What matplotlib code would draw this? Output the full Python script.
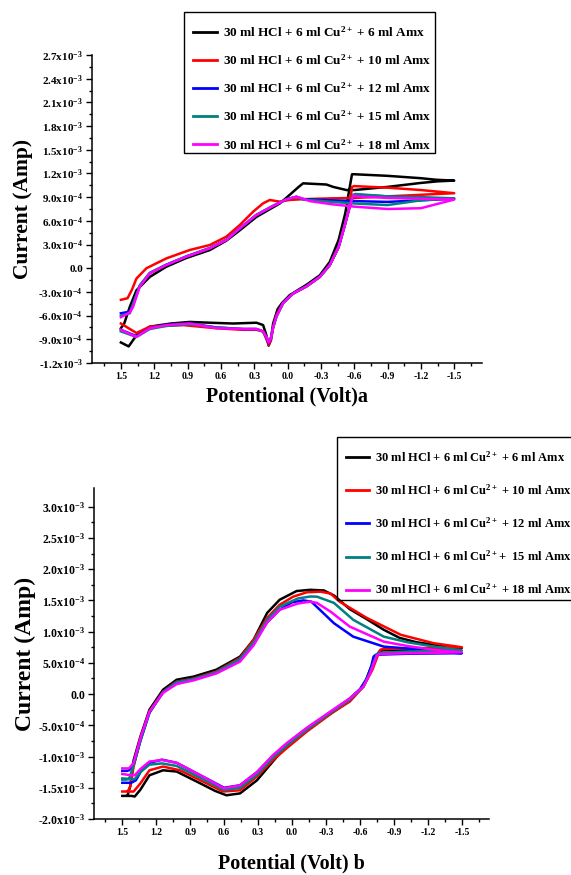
import numpy as np
import matplotlib
matplotlib.use("Agg")
import matplotlib.pyplot as plt
from matplotlib.patches import Rectangle
from matplotlib.ticker import FixedLocator, FixedFormatter

plt.rcParams['font.family'] = ['Liberation Serif', 'DejaVu Serif']
plt.rcParams['font.weight'] = 'bold'
plt.rcParams['mathtext.fontset'] = 'custom'
plt.rcParams['mathtext.rm'] = 'Liberation Serif:bold'
plt.rcParams['mathtext.it'] = 'Liberation Serif:italic:bold'
plt.rcParams['mathtext.bf'] = 'Liberation Serif:bold'

# ---------------- data (potential in V, current in mA) ----------------
colors = ['#000000', '#ff0000', '#0000ff', '#008080', '#ff00ff']
labels_a = [r"30 ml HCl + 6 ml Cu$^{2+}$ + 6 ml Amx",
            r"30 ml HCl + 6 ml Cu$^{2+}$ + 10 ml Amx",
            r"30 ml HCl + 6 ml Cu$^{2+}$ + 12 ml Amx",
            r"30 ml HCl + 6 ml Cu$^{2+}$ + 15 ml Amx",
            r"30 ml HCl + 6 ml Cu$^{2+}$ + 18 ml Amx"]
labels_b = [r"30 ml HCl + 6 ml Cu$^{2+}$ + 6 ml Amx",
            r"30 ml HCl + 6 ml Cu$^{2+}$ + 10 ml Amx",
            r"30 ml HCl + 6 ml Cu$^{2+}$ + 12 ml Amx",
            r"30 ml HCl + 6 ml Cu$^{2+}$+  15 ml Amx",
            r"30 ml HCl + 6 ml Cu$^{2+}$ + 18 ml Amx"]

# panel a
a_black_v = [1.50, 1.43, 1.36, 1.24, 1.05, 0.88, 0.70, 0.49, 0.28, 0.22, 0.19, 0.17, 0.15, 0.13, 0.09, 0.05, -0.02, -0.17, -0.29, -0.38, -0.46, -0.52, -0.55, -0.58, -0.60, -0.90, -1.20, -1.34, -1.50,
             -1.35, -1.20, -0.90, -0.60, -0.53, -0.41, -0.35, -0.14, -0.10, -0.02, 0.07, 0.28, 0.43, 0.55, 0.70, 0.91, 1.09, 1.24, 1.36, 1.42, 1.47, 1.50]
a_black_i = [-0.94, -0.99, -0.85, -0.74, -0.70, -0.68, -0.69, -0.70, -0.69, -0.72, -0.85, -0.98, -0.90, -0.70, -0.52, -0.44, -0.34, -0.21, -0.09, 0.08, 0.36, 0.70, 0.95, 1.19, 1.19, 1.17, 1.14, 1.12, 1.11,
             1.10, 1.08, 1.03, 0.99, 0.99, 1.03, 1.06, 1.075, 1.03, 0.93, 0.82, 0.65, 0.48, 0.35, 0.23, 0.13, 0.02, -0.11, -0.28, -0.49, -0.70, -0.76]
a_red_v = [1.50, 1.36, 1.24, 0.94, 0.64, 0.40, 0.28, 0.22, 0.19, 0.17, 0.15, 0.13, 0.10, 0.04, -0.05, -0.17, -0.29, -0.38, -0.46, -0.52, -0.56, -0.58, -0.60, -0.90, -1.20, -1.50,
           -1.20, -0.90, -0.60, -0.40, -0.15, -0.02, 0.07, 0.16, 0.22, 0.31, 0.43, 0.55, 0.70, 0.88, 1.09, 1.27, 1.36, 1.40, 1.44, 1.50]
a_red_i = [-0.70, -0.82, -0.74, -0.72, -0.76, -0.78, -0.78, -0.80, -0.90, -0.97, -0.92, -0.75, -0.59, -0.44, -0.32, -0.23, -0.11, 0.04, 0.27, 0.57, 0.80, 1.03, 1.04, 1.02, 0.99, 0.95,
           0.93, 0.91, 0.89, 0.885, 0.875, 0.865, 0.843, 0.864, 0.822, 0.716, 0.547, 0.40, 0.294, 0.231, 0.125, 0.0, -0.13, -0.27, -0.38, -0.40]
a_blue_v = [1.50, 1.36, 1.24, 1.09, 0.88, 0.64, 0.40, 0.28, 0.22, 0.19, 0.17, 0.15, 0.13, 0.10, 0.04, -0.05, -0.17, -0.29, -0.38, -0.46, -0.52, -0.56, -0.59, -0.61, -0.90, -1.20, -1.50,
            -1.20, -0.90, -0.60, -0.40, -0.14, -0.08, 0.01, 0.13, 0.28, 0.43, 0.55, 0.70, 0.91, 1.09, 1.24, 1.33, 1.39, 1.42, 1.50]
a_blue_i = [-0.78, -0.86, -0.76, -0.72, -0.70, -0.75, -0.77, -0.77, -0.80, -0.88, -0.95, -0.89, -0.75, -0.61, -0.44, -0.32, -0.23, -0.11, 0.04, 0.27, 0.57, 0.78, 0.92, 0.93, 0.91, 0.89, 0.88,
            0.86, 0.84, 0.85, 0.86, 0.875, 0.905, 0.872, 0.79, 0.675, 0.505, 0.36, 0.255, 0.15, 0.045, -0.06, -0.22, -0.45, -0.55, -0.57]
a_teal_v = [1.50, 1.36, 1.24, 1.09, 0.88, 0.64, 0.40, 0.28, 0.22, 0.19, 0.17, 0.15, 0.13, 0.10, 0.04, -0.05, -0.17, -0.29, -0.38, -0.46, -0.52, -0.56, -0.59, -0.61, -0.90, -1.20, -1.50,
            -1.20, -0.90, -0.60, -0.40, -0.14, -0.08, 0.01, 0.13, 0.28, 0.43, 0.55, 0.70, 0.91, 1.09, 1.24, 1.33, 1.39, 1.42, 1.50]
a_teal_i = [-0.80, -0.87, -0.77, -0.73, -0.71, -0.75, -0.77, -0.77, -0.80, -0.87, -0.94, -0.88, -0.75, -0.61, -0.44, -0.32, -0.23, -0.11, 0.04, 0.27, 0.57, 0.80, 0.93, 0.94, 0.91, 0.90, 0.885,
            0.86, 0.80, 0.82, 0.84, 0.87, 0.905, 0.872, 0.79, 0.675, 0.505, 0.36, 0.255, 0.15, 0.045, -0.06, -0.22, -0.45, -0.57, -0.60]
a_mag_v = [1.50, 1.36, 1.24, 1.09, 0.88, 0.64, 0.40, 0.28, 0.22, 0.19, 0.17, 0.15, 0.13, 0.10, 0.04, -0.05, -0.17, -0.29, -0.38, -0.46, -0.52, -0.56, -0.59, -0.62, -0.90, -1.20, -1.50,
           -1.20, -0.90, -0.60, -0.40, -0.20, -0.14, -0.08, 0.01, 0.13, 0.28, 0.43, 0.55, 0.70, 0.91, 1.09, 1.24, 1.33, 1.39, 1.42, 1.50]
a_mag_i = [-0.78, -0.87, -0.76, -0.72, -0.70, -0.76, -0.77, -0.77, -0.80, -0.87, -0.94, -0.89, -0.75, -0.61, -0.44, -0.32, -0.23, -0.11, 0.04, 0.27, 0.57, 0.78, 0.92, 0.91, 0.89, 0.88, 0.87,
           0.76, 0.75, 0.78, 0.81, 0.85, 0.88, 0.905, 0.872, 0.788, 0.674, 0.505, 0.358, 0.252, 0.147, 0.041, -0.065, -0.233, -0.487, -0.562, -0.62]

# panel b
b_black_v = [1.50, 1.42, 1.39, 1.34, 1.26, 1.14, 1.02, 0.81, 0.68, 0.58, 0.46, 0.31, 0.17, 0.08, -0.07, -0.22, -0.37, -0.51, -0.63, -0.69, -0.75, -0.77, -0.80, -1.00, -1.25, -1.50,
             -1.25, -1.10, -0.95, -0.81, -0.66, -0.51, -0.37, -0.28, -0.16, -0.04, 0.11, 0.22, 0.34, 0.46, 0.67, 0.87, 1.02, 1.14, 1.26, 1.34, 1.40, 1.43, 1.45]
b_black_i = [-1.63, -1.63, -1.64, -1.53, -1.30, -1.22, -1.24, -1.43, -1.55, -1.62, -1.59, -1.38, -1.08, -0.89, -0.63, -0.44, -0.28, -0.09, 0.12, 0.39, 0.63, 0.68, 0.70, 0.71, 0.72, 0.74,
             0.79, 0.83, 0.90, 1.03, 1.20, 1.36, 1.58, 1.66, 1.67, 1.65, 1.51, 1.30, 0.87, 0.60, 0.39, 0.28, 0.23, 0.07, -0.25, -0.68, -1.06, -1.48, -1.60]
b_red_v = [1.50, 1.40, 1.34, 1.26, 1.14, 0.99, 0.81, 0.61, 0.46, 0.31, 0.17, 0.05, -0.13, -0.37, -0.51, -0.63, -0.71, -0.76, -0.78, -0.80, -1.00, -1.25, -1.50,
           -1.25, -0.96, -0.66, -0.42, -0.34, -0.25, -0.13, -0.01, 0.11, 0.22, 0.34, 0.46, 0.67, 0.87, 1.02, 1.14, 1.26, 1.34, 1.40, 1.43, 1.45]
b_red_i = [-1.56, -1.56, -1.43, -1.22, -1.16, -1.22, -1.38, -1.56, -1.54, -1.32, -1.06, -0.87, -0.60, -0.28, -0.12, 0.12, 0.39, 0.63, 0.71, 0.72, 0.73, 0.74, 0.75,
           0.815, 0.95, 1.22, 1.48, 1.61, 1.64, 1.63, 1.56, 1.43, 1.22, 0.87, 0.58, 0.36, 0.25, 0.20, 0.04, -0.28, -0.73, -1.16, -1.48, -1.55]
b_blue_v = [1.50, 1.42, 1.38, 1.33, 1.26, 1.15, 1.02, 0.81, 0.60, 0.46, 0.31, 0.17, 0.05, -0.13, -0.37, -0.51, -0.60, -0.66, -0.70, -0.72, -0.74, -1.00, -1.25, -1.50,
            -1.25, -1.02, -0.81, -0.54, -0.37, -0.24, -0.17, -0.10, 0.00, 0.11, 0.22, 0.34, 0.46, 0.67, 0.87, 1.02, 1.14, 1.26, 1.34, 1.40, 1.44, 1.46, 1.50]
b_blue_i = [-1.42, -1.42, -1.38, -1.22, -1.10, -1.05, -1.10, -1.30, -1.50, -1.46, -1.25, -0.99, -0.80, -0.55, -0.25, -0.07, 0.08, 0.25, 0.45, 0.60, 0.63, 0.645, 0.65, 0.655,
            0.68, 0.73, 0.76, 0.92, 1.135, 1.36, 1.48, 1.50, 1.47, 1.35, 1.15, 0.82, 0.56, 0.34, 0.24, 0.19, 0.03, -0.30, -0.75, -1.13, -1.22, -1.23, -1.23]
b_teal_v = [1.50, 1.42, 1.39, 1.34, 1.26, 1.15, 1.02, 0.81, 0.60, 0.46, 0.31, 0.17, 0.05, -0.13, -0.37, -0.51, -0.63, -0.69, -0.73, -0.75, -0.77, -1.00, -1.25, -1.50,
            -1.25, -1.02, -0.81, -0.54, -0.37, -0.22, -0.16, -0.05, 0.11, 0.22, 0.34, 0.46, 0.67, 0.87, 1.02, 1.14, 1.26, 1.34, 1.40, 1.44, 1.47, 1.50]
b_teal_i = [-1.35, -1.36, -1.36, -1.25, -1.13, -1.11, -1.15, -1.34, -1.535, -1.50, -1.29, -1.02, -0.83, -0.57, -0.26, -0.09, 0.12, 0.35, 0.55, 0.64, 0.66, 0.68, 0.69, 0.70,
            0.762, 0.83, 0.92, 1.19, 1.46, 1.56, 1.563, 1.53, 1.40, 1.19, 0.83, 0.56, 0.35, 0.24, 0.19, 0.03, -0.29, -0.74, -1.14, -1.36, -1.37, -1.37]
b_mag_v = [1.50, 1.42, 1.39, 1.34, 1.26, 1.15, 1.02, 0.81, 0.60, 0.46, 0.31, 0.17, 0.05, -0.13, -0.37, -0.51, -0.63, -0.69, -0.73, -0.75, -0.77, -1.00, -1.25, -1.50,
           -1.25, -1.02, -0.81, -0.51, -0.34, -0.22, -0.16, -0.05, 0.11, 0.22, 0.34, 0.46, 0.67, 0.87, 1.02, 1.14, 1.26, 1.34, 1.40, 1.44, 1.47, 1.50]
b_mag_i = [-1.28, -1.30, -1.30, -1.20, -1.08, -1.055, -1.10, -1.30, -1.51, -1.46, -1.25, -0.98, -0.79, -0.54, -0.24, -0.07, 0.12, 0.33, 0.53, 0.62, 0.64, 0.655, 0.66, 0.67,
           0.71, 0.77, 0.84, 1.08, 1.32, 1.46, 1.48, 1.45, 1.35, 1.15, 0.78, 0.52, 0.33, 0.22, 0.16, 0.02, -0.28, -0.70, -1.10, -1.19, -1.19, -1.19]

a_xticks = [1.5, 1.2, 0.9, 0.6, 0.3, 0.0, -0.3, -0.6, -0.9, -1.2, -1.5]
a_xticklabels = ['1.5', '1.2', '0.9', '0.6', '0.3', '0.0', '-0.3', '-0.6', '-0.9', '-1.2', '-1.5']
a_yticks = [2.7e-3, 2.4e-3, 2.1e-3, 1.8e-3, 1.5e-3, 1.2e-3, 9.0e-4, 6.0e-4, 3.0e-4, 0.0, -3.0e-4, -6.0e-4, -9.0e-4, -1.2e-3]
a_yticklabels = [r'2.7x10$^{-3}$', r'2.4x10$^{-3}$', r'2.1x10$^{-3}$', r'1.8x10$^{-3}$', r'1.5x10$^{-3}$', r'1.2x10$^{-3}$',
                 r'9.0x10$^{-4}$', r'6.0x10$^{-4}$', r'3.0x10$^{-4}$', '0.0', r'-3.0x10$^{-4}$', r'-6.0x10$^{-4}$',
                 r'-9.0x10$^{-4}$', r'-1.2x10$^{-3}$']
b_yticks = [3.0e-3, 2.5e-3, 2.0e-3, 1.5e-3, 1.0e-3, 5.0e-4, 0.0, -5.0e-4, -1.0e-3, -1.5e-3, -2.0e-3]
b_yticklabels = [r'3.0x10$^{-3}$', r'2.5x10$^{-3}$', r'2.0x10$^{-3}$', r'1.5x10$^{-3}$', r'1.0x10$^{-3}$', r'5.0x10$^{-4}$',
                 '0.0', r'-5.0x10$^{-4}$', r'-1.0x10$^{-3}$', r'-1.5x10$^{-3}$', r'-2.0x10$^{-3}$']

a_series = [(a_black_v, a_black_i), (a_red_v, a_red_i), (a_blue_v, a_blue_i), (a_teal_v, a_teal_i), (a_mag_v, a_mag_i)]
b_series = [(b_black_v, b_black_i), (b_red_v, b_red_i), (b_blue_v, b_blue_i), (b_teal_v, b_teal_i), (b_mag_v, b_mag_i)]

W, H = 571, 875
fig = plt.figure(figsize=(W / 100, H / 100), dpi=100)


def make_axes(rect, series, labels, xlim, ylim, yticks, yticklabels, ylabel, xlabel,
              ytick_fs, ylabel_fs, leg_anchor, leg_fs, leg_spacing, leg_hl, leg_tp,
              leg_box, xlabel_y, ylabel_x):
    l, t, r, b = rect
    ax = fig.add_axes([l / W, 1 - b / H, (r - l) / W, (b - t) / H])
    for (v, i), c, lab in zip(series, colors, labels):
        ax.plot(v, np.array(i) * 1e-3, color=c, lw=1.8, label=lab, solid_joinstyle='round')
    ax.set_xlim(*xlim)
    ax.set_ylim(*ylim)
    for s in ['top', 'right']:
        ax.spines[s].set_visible(False)
    for s in ['left', 'bottom']:
        ax.spines[s].set_linewidth(1.1)
    ax.xaxis.set_major_locator(FixedLocator(a_xticks))
    ax.xaxis.set_major_formatter(FixedFormatter(a_xticklabels))
    ax.set_xticks(np.arange(-1.65, 1.70, 0.3), minor=True)
    ax.yaxis.set_major_locator(FixedLocator(yticks))
    ax.yaxis.set_major_formatter(FixedFormatter(yticklabels))
    step = yticks[0] - yticks[1]
    ax.set_yticks(np.array(yticks[:-1]) - step / 2, minor=True)
    ax.tick_params(which='major', direction='out', length=4.5, width=1.0, pad=2)
    ax.tick_params(which='minor', direction='out', length=2.5, width=1.0)
    ax.tick_params(axis='x', labelsize=7)
    ax.tick_params(axis='y', labelsize=ytick_fs)
    for lab in ax.get_xticklabels() + ax.get_yticklabels():
        lab.set_fontweight('bold')
    fig.text((l + r) / 2 / W, 1 - xlabel_y / H, xlabel, ha='center', va='center',
             fontsize=14.5, fontweight='bold')
    fig.text(ylabel_x / W, 1 - ((t + b) / 2) / H, ylabel, ha='center', va='center',
             rotation=90, fontsize=ylabel_fs, fontweight='bold')
    leg = ax.legend(loc='upper left', bbox_to_anchor=(leg_anchor[0] / W, 1 - leg_anchor[1] / H),
                    bbox_transform=fig.transFigure, borderaxespad=0, fontsize=leg_fs,
                    frameon=False, handlelength=leg_hl, handletextpad=leg_tp,
                    labelspacing=leg_spacing, borderpad=0)
    for line in leg.get_lines():
        line.set_linewidth(2.0)
    for txt in leg.get_texts():
        txt.set_fontweight('bold')
    bx0, by0, bx1, by1 = leg_box
    fig.patches.append(Rectangle((bx0 / W, 1 - by1 / H), (bx1 - bx0) / W, (by1 - by0) / H,
                                 transform=fig.transFigure, fill=False, edgecolor='black',
                                 linewidth=1.0, zorder=5))
    return ax


make_axes((92, 55, 482, 363), a_series, labels_a, (1.76, -1.75), (-1.2e-3, 2.7e-3),
          a_yticks, a_yticklabels, 'Current (Amp)', 'Potentional (Volt)a',
          8.0, 15.5, (193, 25), 9.55, 1.02, 1.8, 0.45, (184, 12, 435, 153), 396, 23)
make_axes((94, 488, 489, 819), b_series, labels_b, (1.75, -1.74), (-2.0e-3, 3.3e-3),
          b_yticks, b_yticklabels, 'Current (Amp)', 'Potential (Volt) b',
          8.5, 17, (346, 450), 9.0, 1.48, 1.84, 0.48, (337, 437, 580, 600), 863, 25)

fig.savefig('out.png', dpi=100)
